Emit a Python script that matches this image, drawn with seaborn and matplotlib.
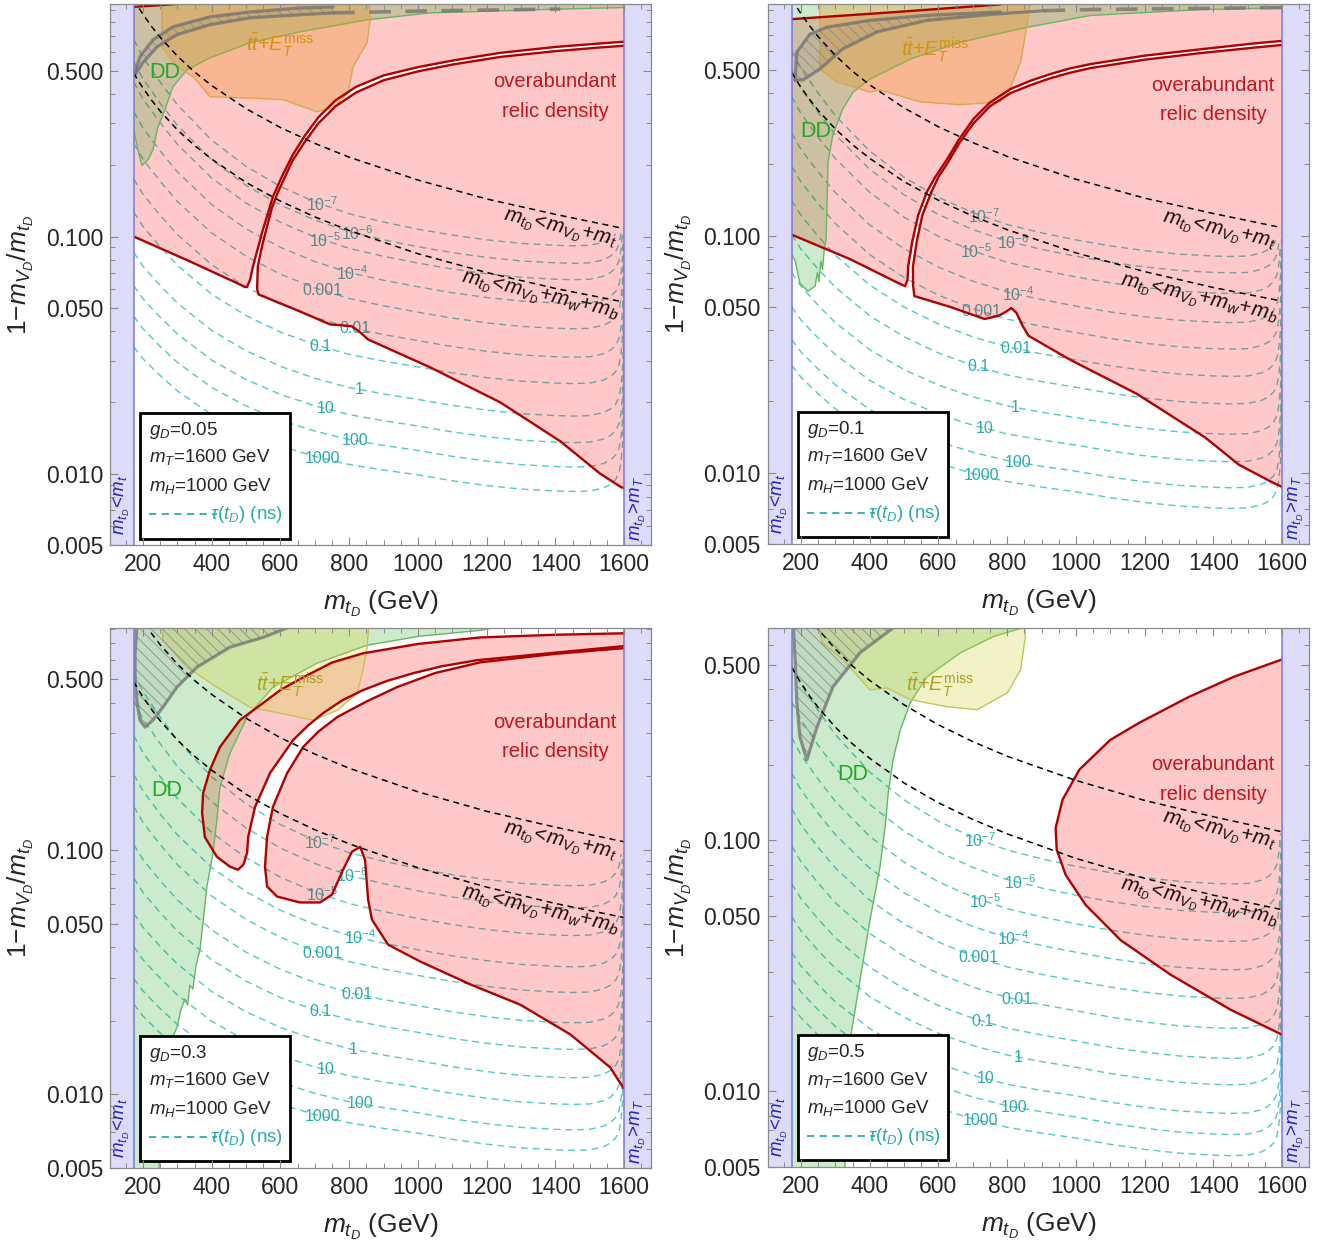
import numpy as np
import pandas as pd
import matplotlib
matplotlib.use("Agg")
import matplotlib.pyplot as plt
import seaborn as sns
from matplotlib.patches import Rectangle, Polygon
from matplotlib.ticker import LogLocator, NullFormatter, MultipleLocator

# ============================ DATA ============================
X_MIN, X_MAX = 104, 1678
M_TOP, M_T_HEAVY = 173, 1600
Y_TOPS = [0.955, 0.95, 0.81, 0.70]
G_VALUES = ["0.05", "0.1", "0.3", "0.5"]

# kinematic thresholds (black dashed)
KIN_X = [173, 180, 190, 200, 225, 250, 300, 350, 400, 500, 600, 700, 800, 1000, 1200, 1400, 1600]
KIN_TOP_Y = [1.0, 0.961, 0.911, 0.865, 0.769, 0.692, 0.577, 0.494, 0.433, 0.346, 0.288, 0.247,
             0.216, 0.173, 0.144, 0.124, 0.108]
KIN_WB_Y = [0.489, 0.470, 0.445, 0.423, 0.376, 0.338, 0.282, 0.242, 0.212, 0.169, 0.141, 0.121,
            0.106, 0.0846, 0.0705, 0.0604, 0.0529]

# lifetime contour shape
TPL_LEFT_X = [173, 200, 250, 300, 400, 500, 600, 700, 800, 900, 1000]
TPL_LEFT_T = [1.0, 0.906, 0.775, 0.656, 0.469, 0.331, 0.225, 0.144, 0.081, 0.0375, 0.0]
TPL_RIGHT_X = [1000, 1100, 1200, 1300, 1400, 1450, 1500, 1540, 1560, 1575, 1585, 1591, 1595, 1597, 1598.5, 1599.5]
TPL_RIGHT_D = [0.0, -0.025, -0.045, -0.060, -0.068, -0.070, -0.068, -0.055, -0.040, -0.020, 0.010,
               0.06, 0.13, 0.22, 0.40, 0.90]

TAU_LABELS = [r"$10^{-7}$", r"$10^{-6}$", r"$10^{-5}$", r"$10^{-4}$", "0.001", "0.01", "0.1",
              "1", "10", "100", "1000"]
# log10(1 - mV/mt) of each lifetime contour at m_tD = 1000 GeV and at m_tD = 173 GeV
P1_TAU_AT1000 = [-0.969, -1.043, -1.112, -1.212, -1.319, -1.439, -1.550, -1.687, -1.799, -1.902, -2.005]
P1_TAU_AT173 = [-0.169, -0.262, -0.348, -0.473, -0.607, -0.757, -0.896, -1.067, -1.207, -1.336, -1.465]
P2_TAU_AT1000 = [-1.018, -1.087, -1.174, -1.297, -1.409, -1.524, -1.640, -1.768, -1.884, -1.994, -2.081]
P2_TAU_AT173 = [-0.218, -0.304, -0.413, -0.567, -0.707, -0.851, -0.996, -1.156, -1.301, -1.438, -1.547]
P3_TAU_AT1000 = [-1.076, -1.167, -1.280, -1.408, -1.513, -1.637, -1.746, -1.862, -1.971, -2.075, -2.159]
P3_TAU_AT173 = [-0.276, -0.390, -0.531, -0.691, -0.822, -0.977, -1.114, -1.259, -1.395, -1.525, -1.630]
P4_TAU_AT1000 = [-1.104, -1.219, -1.333, -1.446, -1.560, -1.679, -1.799, -1.904, -2.018, -2.102, -2.186]
P4_TAU_AT173 = [-0.304, -0.448, -0.590, -0.732, -0.874, -1.023, -1.173, -1.304, -1.447, -1.552, -1.657]
# m_tD at which each contour label sits
P1_TAU_LABEL_X = [721, 823, 730, 808, 721, 817, 715, 829, 730, 817, 721]
P2_TAU_LABEL_X = [734, 818, 710, 833, 725, 824, 716, 824, 734, 833, 725]
P3_TAU_LABEL_X = [715, 808, 721, 832, 721, 823, 715, 811, 730, 832, 721]
P4_TAU_LABEL_X = [722, 839, 737, 818, 716, 827, 728, 833, 737, 821, 722]

# ---------- panel 1 : g_D = 0.05 ----------
P1_RED_A_X = [170, 173, 337, 482, 497, 503, 512, 520, 535, 549, 565, 578, 605, 635, 670, 710, 760, 820, 900,
              1000, 1100, 1239, 1400, 1530, 1680, 1680, 400, 330, 250, 173, 170]
P1_RED_A_Y = [0.100, 0.100, 0.0785, 0.0628, 0.0612, 0.0614, 0.066, 0.0748, 0.090, 0.107, 0.127, 0.147, 0.18,
              0.22, 0.265, 0.318, 0.375, 0.428, 0.478, 0.518, 0.552, 0.595, 0.63, 0.652, 0.676, 1.2, 1.2,
              0.965, 0.945, 0.93, 0.93]
P1_RED_B_X = [1680, 1530, 1400, 1239, 1100, 1000, 900, 820, 760, 710, 670, 635, 618, 591, 575, 562, 547,
              534, 532, 536, 657, 744, 782, 808, 832, 855, 1035, 1239, 1414, 1530, 1591, 1610, 1680]
P1_RED_B_Y = [0.65, 0.627, 0.605, 0.572, 0.531, 0.497, 0.456, 0.405, 0.354, 0.300, 0.250, 0.209, 0.185,
              0.152, 0.132, 0.112, 0.092, 0.0748, 0.060, 0.057, 0.0483, 0.0426, 0.0422, 0.0418, 0.0394,
              0.0368, 0.0281, 0.020, 0.0137, 0.010, 0.00877, 0.0086, 0.0086]
P1_DD_X = [170, 170, 185, 197, 215, 229, 244, 264, 287, 328, 395, 511, 657, 852, 1035, 1414, 1680, 1680]
P1_DD_Y = [1.2, 0.30, 0.232, 0.199, 0.211, 0.232, 0.29, 0.343, 0.428, 0.505, 0.567, 0.656, 0.73, 0.82,
           0.877, 0.91, 0.93, 1.2]
P1_TT_X = [255, 255, 299, 346, 395, 482, 607, 706, 753, 797, 811, 852, 861, 855]
P1_TT_Y = [1.2, 0.631, 0.52, 0.472, 0.389, 0.385, 0.378, 0.336, 0.349, 0.404, 0.52, 0.656, 0.82, 1.2]
P1_GRAY_LO_X = [173, 200, 241, 299, 395, 511, 657, 753]
P1_GRAY_LO_Y = [0.472, 0.541, 0.631, 0.71, 0.782, 0.836, 0.861, 0.877]
P1_GRAY_HI_X = [173, 191, 229, 287, 395, 511, 657, 753]
P1_GRAY_HI_Y = [0.472, 0.573, 0.675, 0.766, 0.844, 0.885, 0.92, 0.93]
P1_GRAY_DASH_X = [753, 1044, 1414]
P1_GRAY_DASH_Y = [0.877, 0.895, 0.91]

# ---------- panel 2 : g_D = 0.1 ----------
P2_RED_A_X = [170, 173, 343, 489, 503, 510, 512, 524, 541, 567, 591, 626, 660, 702, 750, 810, 870, 926, 980,
              1043, 1200, 1364, 1520, 1680, 1680, 900, 780, 468, 173, 170]
P2_RED_A_Y = [0.101, 0.101, 0.0796, 0.0625, 0.0612, 0.065, 0.0743, 0.0946, 0.122, 0.1535, 0.177, 0.211,
              0.255, 0.311, 0.365, 0.416, 0.452, 0.481, 0.507, 0.53, 0.575, 0.612, 0.648, 0.68, 1.2, 1.2,
              0.946, 0.877, 0.82, 0.82]
P2_RED_B_X = [1680, 1520, 1364, 1200, 1043, 980, 926, 870, 810, 750, 702, 660, 626, 600, 580, 553, 537,
              526, 526, 530, 635, 734, 775, 795, 812, 827, 845, 862, 982, 1177, 1375, 1474, 1571, 1600, 1680]
P2_RED_B_Y = [0.655, 0.622, 0.59, 0.553, 0.51, 0.486, 0.462, 0.433, 0.40, 0.352, 0.298, 0.245, 0.202,
              0.177, 0.1535, 0.122, 0.0946, 0.0743, 0.062, 0.0556, 0.050, 0.0445, 0.0459, 0.0476, 0.0495,
              0.0472, 0.0416, 0.0378, 0.030, 0.0215, 0.0141, 0.0108, 0.0091, 0.0087, 0.0087]
P2_DD_X = [170, 170, 183, 197, 220, 241, 248, 252, 258, 263, 268, 273, 276, 279, 293, 322, 352, 401, 518,
           664, 859, 1043, 1364, 1680, 1680]
P2_DD_Y = [1.2, 0.085, 0.0785, 0.063, 0.0583, 0.0612, 0.070, 0.064, 0.078, 0.072, 0.088, 0.095, 0.14,
           0.205, 0.267, 0.343, 0.404, 0.458, 0.556, 0.656, 0.758, 0.85, 0.90, 0.92, 1.2]
P2_TT_X = [255, 255, 305, 401, 430, 547, 664, 780, 801, 839, 859, 877]
P2_TT_Y = [1.2, 0.505, 0.445, 0.404, 0.412, 0.367, 0.357, 0.367, 0.393, 0.541, 0.796, 1.2]
P2_GRAY_LO_X = [183, 206, 255, 322, 422, 567, 760, 906]
P2_GRAY_LO_Y = [0.454, 0.454, 0.505, 0.615, 0.725, 0.81, 0.86, 0.89]
P2_GRAY_HI_X = [183, 188, 226, 276, 400, 560, 780]
P2_GRAY_HI_Y = [0.454, 0.595, 0.708, 0.759, 0.81, 0.85, 0.88]
P2_GRAY_DASH_X = [906, 1043, 1364, 1680]
P2_GRAY_DASH_Y = [0.89, 0.90, 0.91, 0.92]

# ---------- panel 3 : g_D = 0.3 ----------
P3_RED_A_X = [1680, 1400, 1181, 1000, 840, 750, 666, 600, 549, 482, 424, 395, 375, 372, 380, 415, 453, 476,
              492, 503, 506, 526, 570, 637, 680, 724, 780, 840, 910, 986, 1070, 1172, 1414, 1680]
P3_RED_A_Y = [0.775, 0.76, 0.741, 0.697, 0.638, 0.585, 0.509, 0.452, 0.399, 0.340, 0.264, 0.213, 0.171,
              0.142, 0.113, 0.0938, 0.0855, 0.083, 0.087, 0.0975, 0.113, 0.150, 0.207, 0.282, 0.323, 0.363,
              0.41, 0.451, 0.492, 0.529, 0.565, 0.598, 0.645, 0.70]
P3_RED_B_X = [1680, 1400, 1181, 1050, 939, 850, 765, 710, 666, 619, 578, 561, 555, 561, 590, 657, 715, 750,
              782, 808, 832, 846, 855, 866, 913, 1006, 1152, 1297, 1443, 1559, 1600, 1680]
P3_RED_B_Y = [0.685, 0.635, 0.586, 0.53, 0.464, 0.405, 0.350, 0.305, 0.264, 0.206, 0.150, 0.113, 0.0855,
              0.0709, 0.0645, 0.061, 0.061, 0.0657, 0.083, 0.0984, 0.103, 0.0912, 0.0626, 0.0519, 0.041,
              0.035, 0.0282, 0.0233, 0.0176, 0.0129, 0.0105, 0.0105]
P3_DD_X = [170, 170, 244, 250, 258, 264, 272, 278, 284, 300, 310, 322, 330, 336, 345, 355, 366, 386, 404,
           415, 424, 453, 503, 578, 706, 852, 1006, 1181, 1210, 1210]
P3_DD_Y = [1.2, 0.004, 0.004, 0.0065, 0.0080, 0.00957, 0.012, 0.0138, 0.0168, 0.019, 0.0222, 0.0245,
           0.0232, 0.028, 0.027, 0.034, 0.0392, 0.0709, 0.0975, 0.133, 0.181, 0.249, 0.35, 0.464, 0.581,
           0.689, 0.75, 0.792, 0.807, 1.2]
P3_TT_X = [255, 258, 328, 415, 511, 599, 695, 765, 823, 840, 852, 861]
P3_TT_Y = [1.0, 0.721, 0.56, 0.464, 0.384, 0.363, 0.34, 0.373, 0.438, 0.544, 0.676, 1.0]
P3_GRAY_X = [657, 549, 453, 357, 299, 258, 229, 206, 191, 183, 177, 177, 183]
P3_GRAY_Y = [0.85, 0.741, 0.676, 0.56, 0.464, 0.384, 0.34, 0.318, 0.34, 0.399, 0.495, 0.638, 0.85]

# ---------- panel 4 : g_D = 0.5 ----------
P4_RED_X = [1680, 1600, 1460, 1330, 1185, 1100, 1010, 961, 941, 944, 970, 1028, 1130, 1276, 1451, 1600, 1680]
P4_RED_Y = [0.525, 0.525, 0.448, 0.373, 0.294, 0.251, 0.191, 0.145, 0.112, 0.0917, 0.0728, 0.0553, 0.040,
            0.0291, 0.0211, 0.0168, 0.0168]
P4_DD_X = [170, 170, 328, 328, 343, 372, 401, 430, 445, 454, 468, 489, 518, 567, 664, 760, 847, 855]
P4_DD_Y = [0.8, 0.004, 0.004, 0.00925, 0.016, 0.0278, 0.0482, 0.0783, 0.113, 0.155, 0.209, 0.275, 0.353,
           0.448, 0.558, 0.647, 0.703, 0.8]
P4_TT_X = [255, 255, 261, 322, 401, 451, 518, 626, 713, 801, 839, 853, 847]
P4_TT_Y = [0.8, 0.689, 0.612, 0.524, 0.397, 0.404, 0.363, 0.34, 0.331, 0.387, 0.478, 0.647, 0.8]
P4_GRAY_X = [497, 372, 293, 247, 220, 217, 197, 188, 183, 177]
P4_GRAY_Y = [0.75, 0.558, 0.408, 0.283, 0.215, 0.209, 0.258, 0.353, 0.524, 0.75]

# ============================ STYLE ============================
sns.set_theme(style="ticks")
plt.rcParams["font.family"] = ["Liberation Sans", "DejaVu Sans"]
plt.rcParams["mathtext.fontset"] = "custom"
plt.rcParams["mathtext.rm"] = "Liberation Sans"
plt.rcParams["mathtext.it"] = "Liberation Sans:italic"
plt.rcParams["mathtext.bf"] = "Liberation Sans:bold"
plt.rcParams["hatch.linewidth"] = 0.6

CYAN = "#55c8c8"
CYAN_TXT = "#2aacac"
RED_EDGE = "#b00000"
RED_FILL = (1.0, 0.0, 0.0, 0.21)
GREEN_FILL = (0.0, 0.62, 0.0, 0.20)
GREEN_EDGE = "#62b862"
BAND = "#dcdcfa"
BAND_EDGE = "#7878e0"
FRAME = "#8a8a8a"

PANELS = [
    dict(red=[(P1_RED_A_X, P1_RED_A_Y), (P1_RED_B_X, P1_RED_B_Y)], dd=(P1_DD_X, P1_DD_Y),
         tt=(P1_TT_X, P1_TT_Y), tt_style="orange",
         gray=[(P1_GRAY_LO_X, P1_GRAY_LO_Y), (P1_GRAY_HI_X, P1_GRAY_HI_Y)],
         gray_dash=(P1_GRAY_DASH_X, P1_GRAY_DASH_Y),
         hatch=(P1_GRAY_LO_X + P1_GRAY_HI_X[::-1], P1_GRAY_LO_Y + P1_GRAY_HI_Y[::-1]),
         tau=(P1_TAU_AT1000, P1_TAU_AT173, P1_TAU_LABEL_X),
         txt=dict(ov=(1399, 0.45, 0.336), dd=(264, 0.491), tt=(599, 0.644), k1=(1414, 0.107), k2=(1355, 0.0559))),
    dict(red=[(P2_RED_A_X, P2_RED_A_Y), (P2_RED_B_X, P2_RED_B_Y)], dd=(P2_DD_X, P2_DD_Y),
         tt=(P2_TT_X, P2_TT_Y), tt_style="orange",
         gray=[(P2_GRAY_LO_X, P2_GRAY_LO_Y), (P2_GRAY_HI_X, P2_GRAY_HI_Y)],
         gray_dash=(P2_GRAY_DASH_X, P2_GRAY_DASH_Y),
         hatch=(P2_GRAY_LO_X + P2_GRAY_HI_X[::-1], P2_GRAY_LO_Y + P2_GRAY_HI_Y[::-1]),
         tau=(P2_TAU_AT1000, P2_TAU_AT173, P2_TAU_LABEL_X),
         txt=dict(ov=(1399, 0.432, 0.324), dd=(244, 0.275), tt=(591, 0.607), k1=(1416, 0.104), k2=(1358, 0.054))),
    dict(red=[(P3_RED_A_X, P3_RED_A_Y), (P3_RED_B_X, P3_RED_B_Y)], dd=(P3_DD_X, P3_DD_Y),
         tt=(P3_TT_X, P3_TT_Y), tt_style="olive",
         gray=[(P3_GRAY_X, P3_GRAY_Y)], gray_dash=None,
         hatch=(P3_GRAY_X, P3_GRAY_Y),
         tau=(P3_TAU_AT1000, P3_TAU_AT173, P3_TAU_LABEL_X),
         txt=dict(ov=(1399, 0.333, 0.252), dd=(270, 0.176), tt=(628, 0.473), k1=(1414, 0.107), k2=(1355, 0.056))),
    dict(red=[(P4_RED_X, P4_RED_Y)], dd=(P4_DD_X, P4_DD_Y),
         tt=(P4_TT_X, P4_TT_Y), tt_style="olive",
         gray=[(P4_GRAY_X, P4_GRAY_Y)], gray_dash=None,
         hatch=(P4_GRAY_X, P4_GRAY_Y),
         tau=(P4_TAU_AT1000, P4_TAU_AT173, P4_TAU_LABEL_X),
         txt=dict(ov=(1399, 0.20, 0.152), dd=(352, 0.182), tt=(605, 0.416), k1=(1416, 0.108), k2=(1358, 0.0558))),
]

AX_RECTS = [[0.0825, 0.5636, 0.4059, 0.4331], [0.5761, 0.5645, 0.4059, 0.4323],
            [0.0825, 0.0649, 0.4059, 0.4323], [0.5761, 0.0657, 0.4059, 0.4315]]


def contour_table(at1000, at173):
    lx = np.array(TPL_LEFT_X, float)
    lt = np.array(TPL_LEFT_T)
    rx = np.array(TPL_RIGHT_X, float)
    rd = np.array(TPL_RIGHT_D)
    xs = np.concatenate([lx, rx[1:]])
    lim = np.interp(xs, KIN_X, np.log10(KIN_TOP_Y))
    rows, curves = [], []
    for k, (a, b) in enumerate(zip(at1000, at173)):
        ly = np.concatenate([a + (b - a) * lt, a + rd[1:]])
        curves.append((xs, ly))
        ok = ly < lim
        for x, v in zip(xs[ok], ly[ok]):
            rows.append((k, x, 10 ** v))
    return pd.DataFrame(rows, columns=["level", "x", "y"]), curves


fig = plt.figure(figsize=(13.33, 12.49), dpi=100)

for p, P in enumerate(PANELS):
    ax = fig.add_axes(AX_RECTS[p])
    ax.set_yscale("log")
    ax.set_xlim(X_MIN, X_MAX)
    ax.set_ylim(0.005, Y_TOPS[p])

    # lifetime contours
    at1000, at173, lab_x = P["tau"]
    df, curves = contour_table(at1000, at173)
    sns.lineplot(data=df, x="x", y="y", units="level", estimator=None, sort=False, color=CYAN,
                 linewidth=1.0, linestyle=(0, (5, 3.5)), ax=ax, zorder=1, legend=False)
    for k, lbl in enumerate(TAU_LABELS):
        xs, ly = curves[k]
        yl = 10 ** np.interp(lab_x[k], xs, ly)
        ax.text(lab_x[k], yl, lbl, fontsize=11.5, color=CYAN_TXT, ha="center", va="center", zorder=1.5)

    # red overabundant region
    for rx, ry in P["red"]:
        ax.fill(rx, ry, facecolor=RED_FILL, edgecolor="none", zorder=2)
        ax.plot(rx, ry, color=RED_EDGE, lw=1.7, zorder=4.2)

    # direct detection
    dx, dy = P["dd"]
    ax.fill(dx, dy, facecolor=GREEN_FILL, edgecolor="none", zorder=2.6)
    ax.plot(dx, dy, color=GREEN_EDGE, lw=1.0, zorder=2.7)

    # ttbar + MET
    tx, ty = P["tt"]
    if P["tt_style"] == "orange":
        tfill, tedge, tcol = (0.92, 0.58, 0.12, 0.32), "#dca64a", "#d4920e"
    else:
        tfill, tedge, tcol = (0.84, 0.84, 0.28, 0.30), "#c8c255", "#aaa51a"
    ax.fill(tx, ty, facecolor=tfill, edgecolor="none", zorder=3)
    ax.plot(tx, ty, color=tedge, lw=1.0, zorder=3.1)

    # hatched region + gray curve
    hx, hy = P["hatch"]
    ax.add_patch(Polygon(np.column_stack([hx, hy]), closed=True, facecolor=(0.35, 0.35, 0.35, 0.10),
                         edgecolor="#8c8c8c", hatch="\\\\\\", lw=0, zorder=3.3))
    for gx, gy in P["gray"]:
        ax.plot(gx, gy, color="#707070", alpha=0.75, lw=2.3, zorder=3.5, solid_capstyle="round")
    if P["gray_dash"] is not None:
        gx, gy = P["gray_dash"]
        ax.plot(gx, gy, color="#707070", alpha=0.75, lw=2.6, ls=(0, (6, 4)), zorder=3.5)

    # kinematic thresholds
    sns.lineplot(x=KIN_X, y=KIN_TOP_Y, color="black", linewidth=1.1, linestyle=(0, (4, 3)),
                 ax=ax, zorder=5, sort=False, estimator=None)
    sns.lineplot(x=KIN_X, y=KIN_WB_Y, color="black", linewidth=1.1, linestyle=(0, (4, 3)),
                 ax=ax, zorder=5, sort=False, estimator=None)

    # excluded bands
    ax.axvspan(X_MIN - 10, M_TOP, color=BAND, lw=0, zorder=6)
    ax.axvspan(M_T_HEAVY, X_MAX + 10, color=BAND, lw=0, zorder=6)
    ax.axvline(M_TOP, color=BAND_EDGE, lw=1.1, zorder=6.1)
    ax.axvline(M_T_HEAVY, color=BAND_EDGE, lw=1.1, zorder=6.1)
    btr = ax.get_xaxis_transform()
    ax.text((X_MIN + M_TOP) / 2, 0.075, r"$m_{t_D}\!<\!m_t$", transform=btr, rotation=90, color="#2424c8",
            fontsize=13.5, ha="center", va="center", zorder=7)
    ax.text((M_T_HEAVY + X_MAX) / 2, 0.068, r"$m_{t_D}\!>\!m_T$", transform=btr, rotation=90, color="#2424c8",
            fontsize=13.5, ha="center", va="center", zorder=7)

    # annotations
    T = P["txt"]
    ax.text(T["ov"][0], T["ov"][1], "overabundant", color="#c4161c", fontsize=14.5, ha="center", va="center", zorder=7)
    ax.text(T["ov"][0], T["ov"][2], "relic density", color="#c4161c", fontsize=14.5, ha="center", va="center", zorder=7)
    ax.text(T["dd"][0], T["dd"][1], "DD", color="#1faa1f", fontsize=15.5, ha="center", va="center", zorder=7)
    ax.text(T["tt"][0], T["tt"][1], r"$t\bar{t}$+$E_T^{\mathrm{miss}}$", color=tcol, fontsize=14.5,
            ha="center", va="center", zorder=7)
    ax.text(T["k1"][0], T["k1"][1], r"$m_{t_D}\!<\!m_{V_D}\!+\!m_t$", color="#1a0a0a", fontsize=15,
            rotation=-13, ha="center", va="center", zorder=7, rotation_mode="anchor")
    ax.text(T["k2"][0], T["k2"][1], r"$m_{t_D}\!<\!m_{V_D}\!+\!m_w\!+\!m_b$", color="#1a0a0a", fontsize=15,
            rotation=-13, ha="center", va="center", zorder=7, rotation_mode="anchor")

    # legend box
    x0, y0, w, h = 0.055, 0.012, 0.277, 0.232
    ax.add_patch(Rectangle((x0, y0), w, h, transform=ax.transAxes, facecolor="white", edgecolor="black",
                           lw=2.0, zorder=20))
    ltx = x0 + 0.018
    rows_y = [y0 + h - 0.032, y0 + h - 0.082, y0 + h - 0.135, y0 + h - 0.187]
    ax.text(ltx, rows_y[0], r"$g_D$=" + G_VALUES[p], transform=ax.transAxes, fontsize=13.5, ha="left",
            va="center", zorder=21)
    ax.text(ltx, rows_y[1], r"$m_T$=1600 GeV", transform=ax.transAxes, fontsize=13.5, ha="left",
            va="center", zorder=21)
    ax.text(ltx, rows_y[2], r"$m_H$=1000 GeV", transform=ax.transAxes, fontsize=13.5, ha="left",
            va="center", zorder=21)
    ax.plot([ltx, ltx + 0.125], [rows_y[3], rows_y[3]], transform=ax.transAxes, color=CYAN_TXT,
            lw=1.3, ls=(0, (4, 3)), zorder=21)
    ax.text(x0 + w - 0.012, rows_y[3], r"$\tau(t_D)$ (ns)", transform=ax.transAxes, fontsize=13.5,
            ha="right", va="center", color=CYAN_TXT, zorder=21)

    # axes styling
    ax.set_xticks(list(range(200, 1601, 200)))
    ax.xaxis.set_minor_locator(MultipleLocator(50))
    ax.set_yticks([0.005, 0.01, 0.05, 0.1, 0.5])
    ax.set_yticklabels(["0.005", "0.010", "0.050", "0.100", "0.500"])
    ax.yaxis.set_minor_locator(LogLocator(base=10, subs=[2, 3, 4, 6, 7, 8, 9]))
    ax.yaxis.set_minor_formatter(NullFormatter())
    ax.tick_params(which="both", direction="in", top=True, right=True, color=FRAME, labelsize=16.5)
    ax.tick_params(which="major", length=6, width=0.8)
    ax.tick_params(which="minor", length=3.5, width=0.7)
    ax.tick_params(axis="x", pad=6)
    ax.tick_params(axis="y", pad=5)
    for s in ax.spines.values():
        s.set_color(FRAME)
        s.set_linewidth(0.9)
        s.set_zorder(30)
    ax.xaxis.set_zorder(30)
    ax.yaxis.set_zorder(30)
    ax.set_xlabel(r"$m_{t_D}$ (GeV)", fontsize=19, labelpad=9)
    ax.set_ylabel(r"1$-m_{V_D}/m_{t_D}$", fontsize=19, labelpad=7)
    ax.set_xlim(X_MIN, X_MAX)
    ax.set_ylim(0.005, Y_TOPS[p])

fig.savefig("out.png", dpi=100)
